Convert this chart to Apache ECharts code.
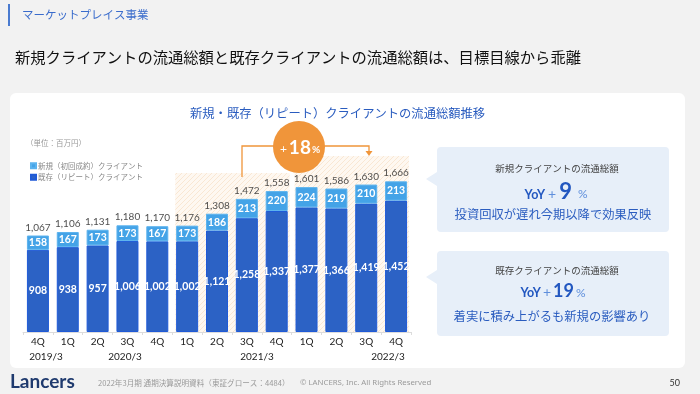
<!DOCTYPE html>
<html>
<head>
<meta charset="utf-8">
<script src="https://cdn.jsdelivr.net/npm/echarts@6/dist/echarts.min.js"></script>
<style>
html,body{margin:0;padding:0;background:#f2f2f2;}
#chart{width:700px;height:394px;}
</style>
</head>
<body>
<div id="chart"></div>
<script>
// ---- data ----
const categories = ['4Q','1Q','2Q','3Q','4Q','1Q','2Q','3Q','4Q','1Q','2Q','3Q','4Q'];
const newClients = [158,167,173,173,167,173,186,213,220,224,219,210,213];
const repeatClients = [908,938,957,1006,1002,1002,1121,1258,1337,1377,1366,1419,1452];
const totals = [1067,1106,1131,1180,1170,1176,1308,1472,1558,1601,1586,1630,1666];
const fiscalYears = ['2019/3','2020/3','2021/3','2022/3'];
const highlightRanges = [[5,8],[9,12]];
const seriesNames = ['新規（初回成約）クライアント','既存（リピート）クライアント'];

// ---- layout / style ----
const JP = '"Noto Sans CJK JP", sans-serif';
const NUM = 'Lato, "Noto Sans", sans-serif';
const DARK = '#2c62c5';
const LIGHT = '#44a3e7';
const ORANGE = '#f0953a';
const BLUE_TXT = '#2a5cbf';
const bandTopPx = [173, 156];
const yearLabelX = [46, 125, 257, 388];

function hatch() {
  const c = document.createElement('canvas');
  c.width = 5; c.height = 5;
  const g = c.getContext('2d');
  g.fillStyle = '#fef8f1';
  g.fillRect(0,0,5,5);
  g.strokeStyle = '#f9e7d3';
  g.lineWidth = 1;
  g.beginPath();
  g.moveTo(0,5); g.lineTo(5,0);
  g.moveTo(-1,1); g.lineTo(1,-1);
  g.moveTo(4,6); g.lineTo(6,4);
  g.stroke();
  return c;
}
const hatchPattern = {image: hatch(), repeat: 'repeat'};
const fmt = v => Number(v).toLocaleString('en-US');

const chart = echarts.init(document.getElementById('chart'), null, {renderer:'canvas'});

const graphics = [
  {type:'rect', shape:{x:10,y:93,width:675,height:275,r:6}, style:{fill:'#ffffff'}, z:-10},
  {type:'rect', shape:{x:8,y:4,width:2,height:22}, style:{fill:'#4a7bd0'}},
  {type:'text', x:22, y:15, style:{text:'マーケットプレイス事業', font:'11.5px '+JP, fill:'#3a6ccc', verticalAlign:'middle'}},
  {type:'text', x:15, y:57, style:{text:'新規クライアントの流通総額と既存クライアントの流通総額は、目標目線から乖離', font:'15.3px '+JP, fill:'#111', verticalAlign:'middle'}},
  {type:'text', x:190, y:113, style:{text:'新規・既存（リピート）クライアントの流通総額推移', font:'12.3px '+JP, fill:BLUE_TXT, verticalAlign:'middle'}},
  {type:'text', x:26, y:143, style:{text:'（単位：百万円）', font:'7.5px '+JP, fill:'#999', verticalAlign:'middle'}},
  // bracket & bubble
  {type:'polyline', shape:{points:[[242,177],[242,146],[369,146],[369,152]]}, style:{stroke:ORANGE, lineWidth:1.3, fill:null}, z:5},
  {type:'polygon', shape:{points:[[365.5,151],[372.5,151],[369,156]]}, style:{fill:ORANGE}, z:5},
  {type:'circle', shape:{cx:299,cy:147,r:26}, style:{fill:ORANGE}, z:6},
  {type:'text', x:300, y:148, z:7, style:{
    text:'{p|+}{n|18}{c|%}', align:'center', verticalAlign:'middle',
    rich:{
      p:{font:'12px '+NUM, fill:'#fff', padding:[2,2,0,0]},
      n:{font:'bold 19px '+NUM, fill:'#fff'},
      c:{font:'bold 10px '+NUM, fill:'#fff', padding:[4,0,0,1]}
    }}},
  // callouts
  {type:'rect', shape:{x:437,y:147,width:232,height:85,r:4}, style:{fill:'#e7eff9'}},
  {type:'polygon', shape:{points:[[437,172],[426,179],[437,186]]}, style:{fill:'#e7eff9'}},
  {type:'text', x:557, y:168, style:{text:'新規クライアントの流通総額', font:'9.5px '+JP, fill:'#444', align:'center', verticalAlign:'middle'}},
  {type:'text', x:556, y:192, style:{
    text:'{y|YoY}{p|+}{n|9}{c|%}', align:'center', verticalAlign:'middle',
    rich:{
      y:{font:'bold 12.5px '+NUM, fill:'#2257c0', padding:[5,0,0,0]},
      p:{font:'14px '+NUM, fill:'#5f8fdc', padding:[4,3,0,3]},
      n:{font:'bold 22px '+NUM, fill:'#2257c0'},
      c:{font:'12px '+NUM, fill:'#5f8fdc', padding:[5,0,0,6]}
    }}},
  {type:'text', x:553, y:214, style:{text:'投資回収が遅れ今期以降で効果反映', font:'12.3px '+JP, fill:BLUE_TXT, align:'center', verticalAlign:'middle'}},
  {type:'rect', shape:{x:437,y:251,width:232,height:85,r:4}, style:{fill:'#e7eff9'}},
  {type:'polygon', shape:{points:[[437,270],[426,277],[437,284]]}, style:{fill:'#e7eff9'}},
  {type:'text', x:557, y:270, style:{text:'既存クライアントの流通総額', font:'9.5px '+JP, fill:'#444', align:'center', verticalAlign:'middle'}},
  {type:'text', x:553, y:291, style:{
    text:'{y|YoY}{p|+}{n|19}{c|%}', align:'center', verticalAlign:'middle',
    rich:{
      y:{font:'bold 12.5px '+NUM, fill:'#2257c0', padding:[4,0,0,0]},
      p:{font:'14px '+NUM, fill:'#5f8fdc', padding:[3,2,0,2]},
      n:{font:'bold 18px '+NUM, fill:'#2257c0'},
      c:{font:'12px '+NUM, fill:'#5f8fdc', padding:[4,0,0,2]}
    }}},
  {type:'text', x:552, y:316, style:{text:'着実に積み上がるも新規の影響あり', font:'12.3px '+JP, fill:BLUE_TXT, align:'center', verticalAlign:'middle'}},
  // footer
  {type:'text', x:10, y:382, style:{text:'Lancers', font:'bold 19px '+NUM, fill:'#1f3a6e', verticalAlign:'middle'}},
  {type:'text', x:98, y:383, style:{text:'2022年3月期 通期決算説明資料（東証グロース：4484）', font:'7.6px '+JP, fill:'#9a9a9a', verticalAlign:'middle'}},
  {type:'text', x:300, y:383, style:{text:'© LANCERS, Inc. All Rights Reserved', font:'7.8px "Noto Sans", sans-serif', fill:'#9a9a9a', verticalAlign:'middle'}},
  {type:'text', x:680, y:383, style:{text:'50', font:'9px '+NUM, fill:'#333', align:'right', verticalAlign:'middle'}}
];
fiscalYears.forEach((t,i)=>{
  graphics.push({type:'text', x:yearLabelX[i], y:357, style:{text:t, font:'10px '+NUM, fill:'#222', align:'center', verticalAlign:'middle'}});
});

const innerLabel = {show:true, position:'inside', color:'#fff', fontFamily:NUM, fontWeight:'bold', fontSize:10.5,
  formatter:p=>fmt(p.value)};

chart.setOption({
  backgroundColor:'#f2f2f2',
  animation:false,
  graphic:{elements:graphics},
  legend:{
    data:seriesNames, orient:'vertical', left:25, top:157, icon:'rect',
    itemWidth:5, itemHeight:5, itemGap:4, selectedMode:false,
    textStyle:{fontFamily:JP, fontSize:7.5, color:'#888', padding:[0,0,0,-3]}
  },
  grid:{left:23, right:289, top:151, bottom:62},
  xAxis:{
    type:'category', data:categories,
    axisLine:{lineStyle:{color:'#dcdcdc'}},
    axisTick:{show:true, length:3, lineStyle:{color:'#dcdcdc'}},
    axisLabel:{color:'#222', fontFamily:NUM, fontSize:10, margin:5}
  },
  yAxis:{type:'value', min:0, max:2000, show:false, splitLine:{show:false}},
  series:[
    {
      type:'custom', silent:true, z:0,
      data:highlightRanges.map(r=>[r[0], r[1], 0]),
      encode:{x:[0,1], y:2},
      renderItem:function(params, api){
        const bw = api.size([1,0])[0];
        const x0 = api.coord([api.value(0),0])[0] - bw/2 + 3;
        const x1 = api.coord([api.value(1),0])[0] + bw/2 - 2;
        const yb = api.coord([0,0])[1];
        const top = bandTopPx[params.dataIndex];
        return {type:'rect', shape:{x:x0, y:top, width:x1-x0, height:yb-top}, style:{fill:hatchPattern}};
      }
    },
    {
      name:seriesNames[1], type:'bar', stack:'gmv', data:repeatClients, barWidth:22, z:2,
      itemStyle:{color:DARK, borderColor:'#1f5ad8', borderWidth:1},
      label:innerLabel
    },
    {
      name:seriesNames[0], type:'bar', stack:'gmv', data:newClients, barWidth:22, z:2,
      itemStyle:{color:LIGHT, borderColor:'#5cb3ee', borderWidth:1},
      label:innerLabel
    },
    {
      type:'scatter', data:totals, symbolSize:0, silent:true, z:3,
      label:{show:true, position:'top', distance:3, color:'#222', fontFamily:NUM, fontSize:10,
        formatter:p=>fmt(p.value)}
    }
  ]
});
</script>
</body>
</html>
